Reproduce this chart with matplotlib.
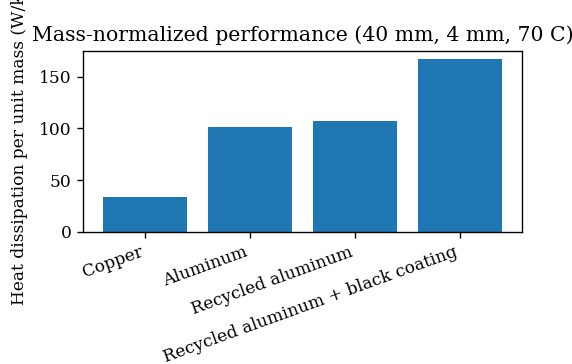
import matplotlib
matplotlib.use("Agg")
import matplotlib.pyplot as plt

plt.rcParams['font.family'] = 'DejaVu Serif'

materials = ["Copper", "Aluminum", "Recycled aluminum", "Recycled aluminum + black coating"]
power_per_mass = [33.6, 101.0, 107.4, 166.9]

fig = plt.figure(figsize=(572 / 122, 364 / 122), dpi=122)
ax = fig.add_axes([0.1457, 0.3635, 0.7663, 0.4972])

ax.bar(materials, power_per_mass, color="#1f77b4")
ax.set_title("Mass-normalized performance (40 mm, 4 mm, 70 C)")
ax.set_ylabel("Heat dissipation per unit mass (W/kg)", labelpad=6.5)
plt.setp(ax.get_xticklabels(), rotation=20, ha="right")

fig.savefig("out.png", dpi=122)
